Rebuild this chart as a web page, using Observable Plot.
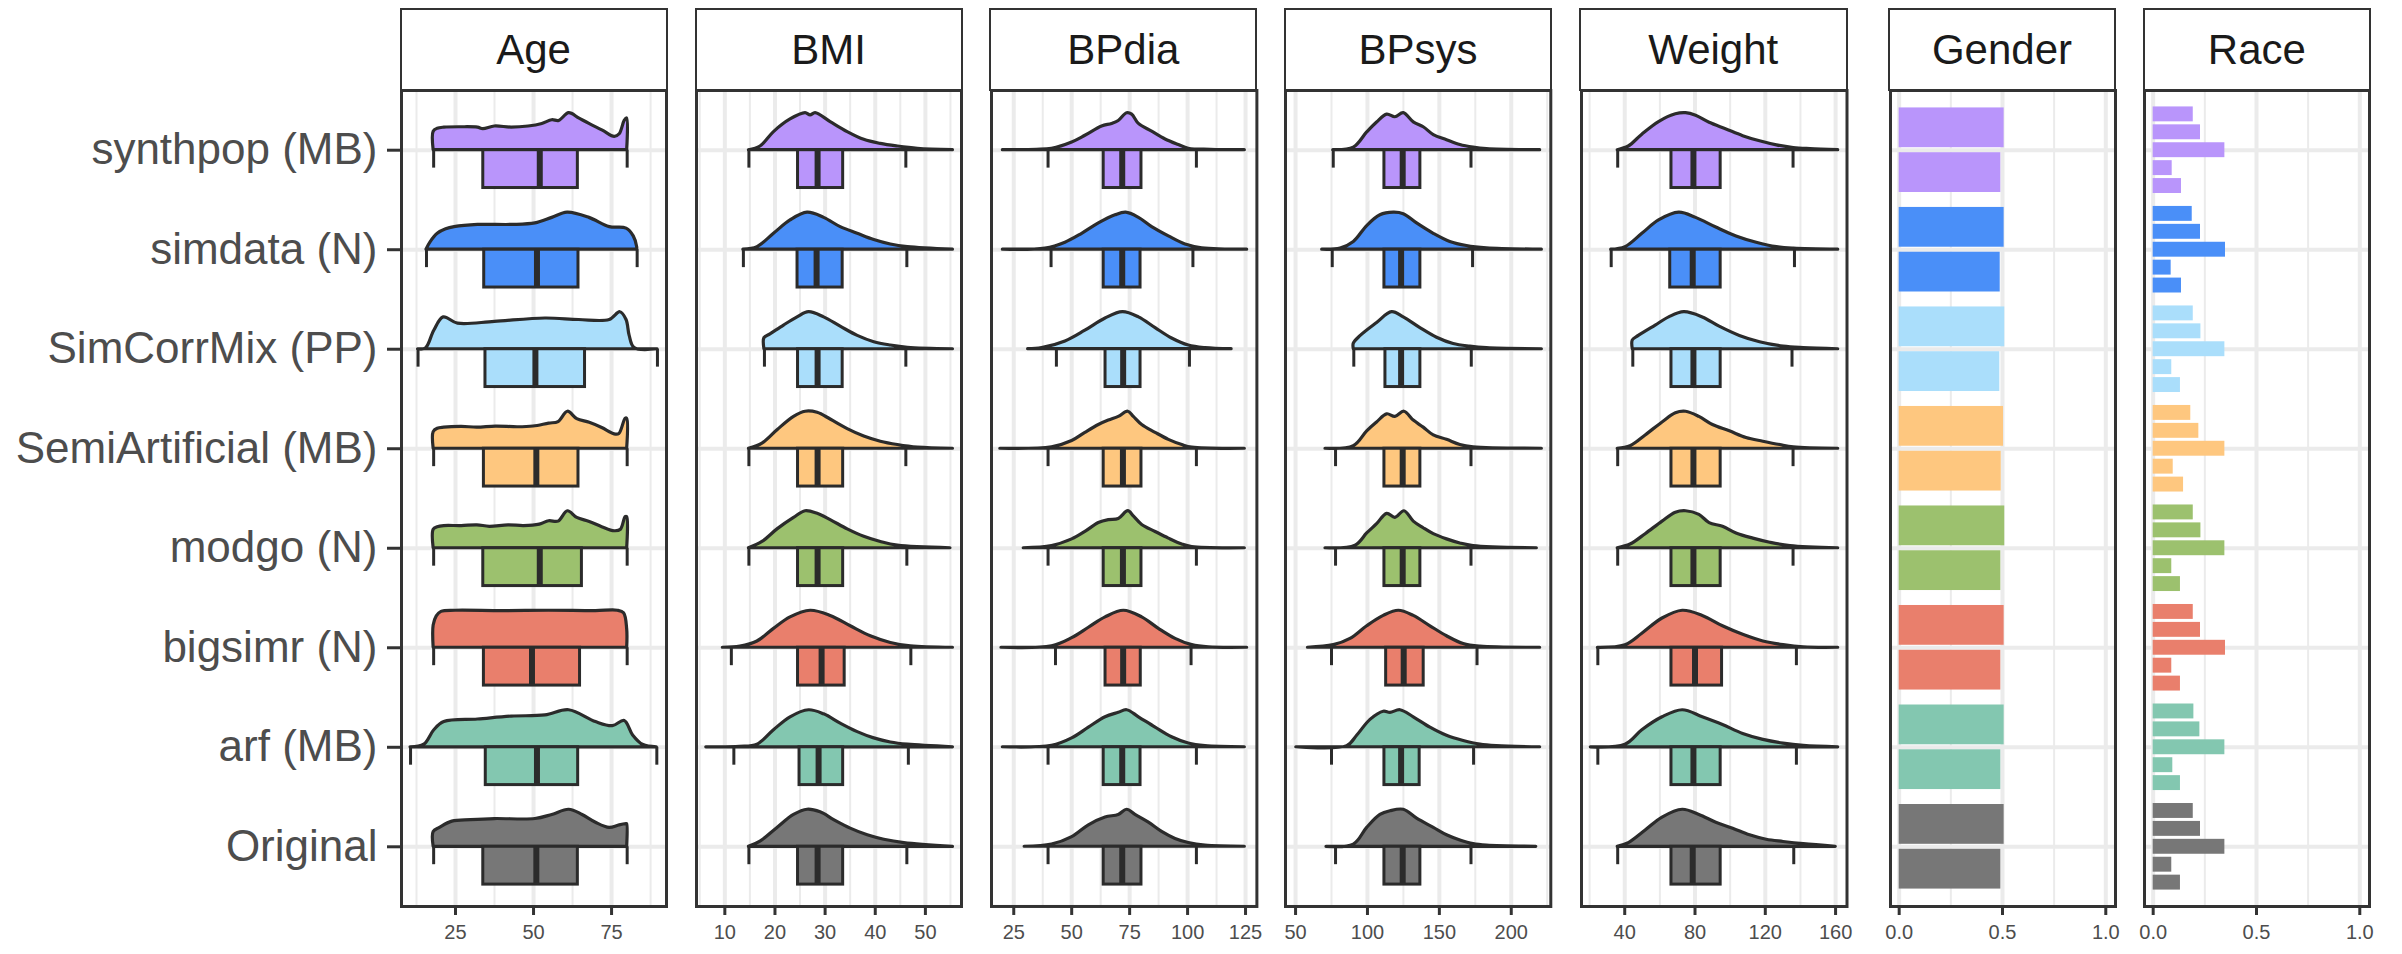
<!DOCTYPE html>
<html><head><meta charset="utf-8">
<script src="https://cdn.jsdelivr.net/npm/d3@7"></script>
<script src="https://cdn.jsdelivr.net/npm/@observablehq/plot@0.6"></script>
<style>
body{margin:0;background:#fff;}
#chart{position:relative;width:2402px;height:954px;overflow:hidden;font-family:"Liberation Sans",Arial,sans-serif;background:#fff;}
.strip{position:absolute;top:8px;height:83px;box-sizing:border-box;border:2.5px solid #333;background:#fff;display:flex;align-items:center;justify-content:center;font-size:42px;color:#1a1a1a;}
.panel{position:absolute;}
</style></head><body><div id="chart"></div>
<script>
// ---------- data ----------
const methods = ["synthpop (MB)","simdata (N)","SimCorrMix (PP)","SemiArtificial (MB)","modgo (N)","bigsimr (N)","arf (MB)","Original"];
const methodColors = ["#B995FB","#4A8FF8","#AADEFB","#FEC77F","#9CC16E","#E97F6C","#83C7B0","#777777"];

const ageTicks = [25,50,75], ageMinor = [12.5,37.5,62.5,87.5];
const bmiTicks = [10,20,30,40,50], bmiMinor = [5,15,25,35,45,55];
const bpdiaTicks = [25,50,75,100,125], bpdiaMinor = [37.5,62.5,87.5,112.5];
const bpsysTicks = [50,100,150,200], bpsysMinor = [75,125,175,225];
const weightTicks = [40,80,120,160], weightMinor = [20,60,100,140];
const propTicks = [0,0.5,1], propMinor = [0.25,0.75];

// density outlines: [value, relative density] per method
const ageDens = [
 [[18,0],[18,0.5],[19.3,0.58],[21.4,0.61],[26.8,0.62],[32.2,0.61],[33.9,0.57],[37.6,0.64],[43,0.61],[48.4,0.64],[52.8,0.71],[56,0.81],[58.2,0.79],[61.4,1],[64.6,0.86],[67.9,0.71],[72.2,0.53],[76,0.36],[77.6,0.43],[79.2,0.79],[80,0.86],[80,0]],
 [[15.7,0],[17,0.2],[19.3,0.43],[22,0.55],[24.7,0.61],[32.2,0.67],[43,0.67],[50.6,0.71],[56,0.86],[60.9,1],[67.9,0.86],[74.4,0.61],[79.8,0.57],[82.1,0.36],[83.2,0.07],[83.2,0]],
 [[13,0],[15.5,0.02],[18.2,0.5],[21.2,0.86],[25.8,0.69],[37.6,0.74],[53.8,0.83],[64.6,0.79],[74.4,0.79],[77.8,1],[79.8,0.79],[80.8,0.36],[82.4,0.03],[89.7,0]],
 [[18,0],[18,0.45],[19.3,0.54],[21.4,0.57],[27,0.59],[32,0.57],[38,0.6],[45,0.58],[50,0.6],[55,0.68],[58,0.72],[61,1],[64,0.8],[68,0.7],[72,0.56],[76,0.39],[77.5,0.4],[79.5,0.81],[80,0.81],[80,0]],
 [[18,0],[18,0.5],[19.3,0.57],[21.4,0.6],[27,0.6],[32,0.62],[36,0.58],[42,0.62],[47,0.6],[52,0.64],[55,0.73],[58,0.72],[61,1],[64,0.82],[68,0.71],[72,0.57],[76,0.46],[78,0.5],[79.5,0.84],[80,0.84],[80,0]],
 [[18,0],[18,0.6],[19,0.85],[20.5,0.97],[25,1],[40,0.99],[55,1],[70,0.99],[77,1],[79,0.93],[80,0.5],[80,0]],
 [[10.6,0],[15,0.07],[18.2,0.46],[21.4,0.68],[32.2,0.75],[43,0.83],[53.8,0.86],[61.4,1],[70,0.68],[75.4,0.57],[79.2,0.71],[81.9,0.32],[85.2,0.06],[89.5,0]],
 [[18,0],[18,0.4],[20,0.51],[24,0.68],[30,0.72],[37.6,0.75],[50.6,0.75],[56,0.86],[61.4,1],[65.7,0.86],[70,0.65],[74.4,0.51],[77.6,0.58],[79.8,0.61],[80,0.61],[80,0]]
];
const bmiDens = [
 [[14.8,0],[17.1,0.1],[19.8,0.49],[23.1,0.83],[26.1,1],[27.1,0.94],[28.1,1],[31.1,0.76],[34.5,0.49],[37.8,0.28],[41.1,0.17],[44.5,0.1],[48.5,0.04],[55.5,0]],
 [[13.7,0],[16.5,0.07],[19.8,0.43],[23.1,0.79],[26.5,1],[29.8,0.86],[33.1,0.61],[36.5,0.43],[39.8,0.26],[43.1,0.14],[46.5,0.07],[55.5,0]],
 [[17.9,0],[17.9,0.3],[19.1,0.4],[21.8,0.64],[24.5,0.86],[26.8,1],[29.8,0.86],[33.1,0.61],[36.5,0.36],[39.8,0.19],[43.1,0.1],[46.5,0.04],[55.5,0]],
 [[14.8,0],[17.5,0.14],[20.5,0.5],[23.8,0.86],[26.1,1],[28.5,0.97],[31.1,0.79],[34.5,0.53],[37.8,0.33],[41.1,0.19],[44.5,0.1],[48.5,0.03],[55.5,0]],
 [[14.8,0],[17.5,0.17],[20.5,0.51],[23.8,0.82],[26.1,1],[28.5,0.93],[31.1,0.76],[34.5,0.51],[37.8,0.31],[41.1,0.17],[44.5,0.07],[55,0]],
 [[9.6,0],[13.1,0.03],[16.5,0.17],[19.8,0.51],[23.1,0.82],[27.1,1],[31.1,0.86],[35.1,0.58],[39.1,0.31],[43.1,0.13],[47.1,0.04],[55.5,0]],
 [[6.3,0],[13,0.01],[16.5,0.07],[19.8,0.46],[23.1,0.81],[26.8,1],[29.8,0.89],[33.1,0.64],[36.5,0.41],[39.8,0.24],[43.1,0.13],[46.5,0.07],[55.5,0]],
 [[14.8,0],[17.1,0.14],[20.5,0.51],[23.8,0.86],[26.5,1],[29.1,0.93],[31.8,0.72],[35.1,0.49],[38.5,0.31],[41.8,0.19],[45.8,0.1],[55.5,0]]
];
const bpdiaDens = [
 [[20.3,0],[35,0.01],[41.5,0.04],[50.2,0.21],[55.9,0.39],[63.1,0.64],[67.4,0.71],[70.3,0.79],[73.9,1],[76.1,0.96],[79,0.71],[84.7,0.5],[90.5,0.29],[96.2,0.14],[100.5,0.04],[110,0.01],[124.7,0]],
 [[20.3,0],[38.7,0.03],[47.3,0.19],[54.5,0.43],[61.7,0.71],[68.9,0.93],[73.5,1],[79,0.86],[84.7,0.61],[91.9,0.36],[99.1,0.14],[106.3,0.04],[125.7,0]],
 [[31.2,0],[37.2,0.03],[47.3,0.21],[55.9,0.5],[64.6,0.83],[72.1,1],[79,0.86],[86.2,0.57],[93.3,0.29],[100.5,0.1],[107.7,0.03],[119,0]],
 [[19.2,0],[41.5,0.04],[50.2,0.21],[55.9,0.43],[61.7,0.64],[66,0.76],[70.3,0.86],[74.4,1],[76.8,0.86],[80.4,0.64],[86.2,0.43],[91.9,0.24],[97.7,0.1],[102,0.03],[124.7,0]],
 [[29.3,0],[41.5,0.06],[50.2,0.24],[55.9,0.44],[61.7,0.68],[66,0.76],[70.3,0.79],[74.4,1],[76.8,0.86],[80.4,0.63],[86.2,0.44],[91.9,0.26],[97.7,0.1],[102,0.03],[124.7,0]],
 [[19.7,0],[41.5,0.04],[50.2,0.26],[57.4,0.54],[64.6,0.82],[72.5,1],[80.4,0.82],[87.6,0.51],[94.8,0.24],[102,0.07],[109.2,0.01],[125.7,0]],
 [[20.3,0],[41.5,0.04],[50.2,0.24],[57.4,0.53],[64.6,0.81],[70.3,0.93],[73.9,1],[79,0.81],[86.2,0.53],[93.3,0.27],[100.5,0.1],[107.7,0.03],[124.7,0]],
 [[29.7,0],[41.5,0.06],[50.2,0.26],[57.4,0.58],[64.6,0.79],[70.3,0.86],[73.9,1],[77.5,0.86],[83.3,0.65],[89,0.4],[94.8,0.21],[100.5,0.1],[107.7,0.03],[124.7,0]]
];
const bpsysDens = [
 [[76.2,0],[90.5,0.07],[99.8,0.48],[106.7,0.75],[113.7,0.96],[119.4,0.89],[125.2,1],[132.2,0.75],[139.1,0.62],[146.1,0.41],[155.3,0.27],[164.6,0.14],[173.8,0.07],[183.1,0.03],[220.1,0]],
 [[68.5,0],[81.3,0.03],[90.5,0.21],[99.8,0.64],[109,0.93],[118.3,1],[125.2,0.96],[134.5,0.71],[146.1,0.43],[157.6,0.21],[169.2,0.1],[183.1,0.04],[221.3,0]],
 [[90.5,0],[90.5,0.15],[95.3,0.36],[106.7,0.71],[117.1,1],[125.2,0.86],[136.8,0.57],[148.4,0.31],[159.9,0.14],[171.5,0.07],[183.1,0.03],[221.3,0]],
 [[70.8,0],[90.5,0.07],[99.8,0.47],[106.7,0.71],[113.7,0.93],[119.4,0.86],[125.7,1],[132.2,0.76],[139.1,0.57],[146.1,0.36],[155.3,0.24],[164.6,0.1],[173.8,0.04],[221.3,0]],
 [[70.8,0],[91.7,0.07],[99.8,0.4],[106.7,0.65],[113.7,0.93],[119.4,0.82],[125.7,1],[132.2,0.72],[139.1,0.54],[146.1,0.38],[155.3,0.24],[164.6,0.13],[173.8,0.06],[217.8,0]],
 [[58.6,0],[76.6,0.07],[88.2,0.24],[99.8,0.58],[111.3,0.86],[121.8,1],[132.2,0.86],[143.8,0.58],[155.3,0.31],[166.9,0.1],[178.5,0.03],[220.1,0]],
 [[50.5,0],[85.9,0.03],[92.8,0.31],[102.1,0.74],[111.3,0.96],[116,0.93],[122.9,1],[132.2,0.81],[143.8,0.53],[155.3,0.31],[166.9,0.17],[178.5,0.07],[190,0.03],[220.1,0]],
 [[71.5,0],[90.5,0.06],[99.8,0.51],[109,0.86],[116,0.96],[125.2,1],[134.5,0.76],[146.1,0.51],[155.3,0.31],[164.6,0.17],[173.8,0.07],[183.1,0.03],[217.4,0]]
];
const weightDens = [
 [[36,0],[42.3,0.1],[50,0.42],[59.5,0.76],[69.1,0.97],[74.9,1],[80.6,0.93],[88.3,0.74],[97.9,0.56],[107.4,0.38],[117,0.24],[126.6,0.13],[136.2,0.06],[145.7,0.03],[161.5,0]],
 [[32.3,0],[40.4,0.07],[50,0.43],[59.5,0.79],[71,1],[80.6,0.86],[92.1,0.6],[103.6,0.36],[115.1,0.19],[126.6,0.07],[136.2,0.03],[161.5,0]],
 [[44.6,0],[44.6,0.24],[48,0.36],[57.6,0.64],[65.3,0.86],[73.9,1],[84.4,0.86],[94,0.61],[105.5,0.36],[117,0.19],[130.4,0.07],[141.9,0.03],[161.5,0]],
 [[36,0],[43.3,0.07],[51.9,0.36],[61.5,0.71],[69.1,0.96],[74.9,1],[82.5,0.86],[90.2,0.64],[99.8,0.47],[109.3,0.29],[118.9,0.19],[128.5,0.1],[136.2,0.04],[161.5,0]],
 [[36,0],[43.3,0.1],[51.9,0.38],[61.5,0.72],[69.1,0.96],[74.9,1],[82.5,0.9],[88.3,0.68],[95.9,0.58],[103.6,0.4],[113.2,0.26],[122.8,0.15],[134.3,0.06],[161.5,0]],
 [[24.7,0],[40.4,0.07],[50,0.38],[61.5,0.79],[73,1],[84.4,0.86],[95.9,0.58],[107.4,0.35],[118.9,0.17],[130.4,0.07],[141.9,0.01],[161.5,0]],
 [[20.7,0],[40.4,0.07],[50,0.46],[61.5,0.81],[73,1],[84.4,0.81],[95.9,0.6],[107.4,0.36],[118.9,0.2],[130.4,0.1],[141.9,0.04],[161.5,0]],
 [[36,0],[42.3,0.1],[51.9,0.44],[61.5,0.79],[73,1],[82.5,0.86],[92.1,0.65],[101.7,0.49],[111.3,0.31],[120.8,0.19],[130.4,0.13],[141.9,0.07],[160.1,0]]
];

// box stats: [lower whisker, Q1, median, Q3, upper whisker]
const ageBox = [[18,33.9,52.0,64.2,80],[15.7,34.2,51.1,64.4,83.2],[13.0,34.6,50.6,66.5,89.7],[18,34.1,50.9,64.4,80],[18,33.9,52.0,65.5,80],[18,34.1,49.5,64.9,80],[10.6,34.7,51.1,64.3,89.5],[18,33.9,50.9,64.2,80]];
const bmiBox = [[14.8,24.6,28.5,33.6,46.1],[13.7,24.5,28.3,33.5,46.3],[17.9,24.6,28.5,33.5,46.1],[14.8,24.6,28.5,33.6,46.1],[14.8,24.6,28.5,33.6,46.3],[11.3,24.6,29.3,33.9,47.1],[11.8,24.9,28.7,33.6,46.6],[14.8,24.6,28.5,33.6,46.3]];
const bpdiaBox = [[39.8,63.8,71.8,80.1,103.8],[41.1,63.8,71.8,79.7,102.3],[43.4,64.6,72.2,79.7,100.8],[39.8,63.8,72.1,80.1,103.8],[39.8,63.8,72.1,80.1,103.8],[43.0,64.6,72.2,79.8,101.5],[39.8,63.8,71.8,79.7,103.8],[39.8,63.8,71.8,80.1,103.8]];
const bpsysBox = [[76.2,111.8,124.5,136.8,172.0],[75.5,111.8,123.4,136.8,173.1],[90.5,112.5,123.4,136.8,172.2],[77.8,111.8,124.5,136.8,172.0],[77.8,111.8,124.5,136.8,172.0],[75.0,113.0,125.2,139.1,176.2],[75.0,111.8,123.4,136.3,173.8],[77.8,111.8,124.5,136.8,172.0]];
const weightBox = [[36.0,66.6,79.1,94.6,135.8],[32.3,65.9,78.7,94.6,136.6],[44.6,66.6,79.1,94.6,135.2],[36.0,66.6,79.1,94.6,135.8],[36.0,66.6,79.1,94.6,135.8],[24.7,66.6,80.0,95.4,137.7],[24.7,66.6,79.1,94.6,137.7],[36.0,66.6,78.7,94.6,136.2]];

// categorical proportions
const genderFirst  = [0.508,0.508,0.511,0.505,0.511,0.508,0.508,0.508];
const genderSecond = [0.492,0.489,0.487,0.494,0.492,0.492,0.492,0.492];
const raceShares = [
 [0.194,0.229,0.347,0.092,0.137],
 [0.189,0.229,0.350,0.087,0.137],
 [0.194,0.231,0.347,0.090,0.132],
 [0.182,0.221,0.347,0.097,0.147],
 [0.194,0.231,0.347,0.090,0.132],
 [0.194,0.229,0.350,0.090,0.132],
 [0.197,0.226,0.347,0.095,0.132],
 [0.194,0.229,0.347,0.090,0.132]
];

// ---------- layout ----------
const chart = document.getElementById("chart");
const PANEL_TOP = 90, PANEL_H = 816;
const FONT = "Liberation Sans, Arial, sans-serif";
const INK = "#2b2b2b";
const DH = 0.372; // density peak height in row units

function place(svg, left, top) {
  svg.classList.add("panel");
  svg.style.left = left + "px";
  svg.style.top = top + "px";
  chart.appendChild(svg);
}
function strip(name, left, right) {
  const d = document.createElement("div");
  d.className = "strip";
  d.textContent = name;
  d.style.left = (left - 1.5) + "px";
  d.style.width = (right - left + 3) + "px";
  chart.appendChild(d);
}
function baseMarks(p) {
  return [
    Plot.ruleX(p.minor, {stroke: "#ebebeb", strokeWidth: 2}),
    Plot.ruleX(p.ticks, {stroke: "#ebebeb", strokeWidth: 4}),
    Plot.ruleY(d3.range(methods.length), {stroke: "#ebebeb", strokeWidth: 4})
  ];
}
function finish(p, marks, first) {
  const mL = first ? p.left : 3, mR = 3, mT = 3, mB = 46;
  marks.push(Plot.frame({stroke: "#333", strokeWidth: 3}));
  marks.push(Plot.axisX({ticks: p.ticks, tickSize: 9, tickPadding: 9, fontSize: 20, fill: "#4d4d4d", stroke: "#333", strokeWidth: 3, label: null, tickFormat: p.fmt}));
  if (first) marks.push(Plot.axisY({ticks: d3.range(methods.length), tickFormat: i => methods[i], tickSize: 14, tickPadding: 10, fontSize: 44, fill: "#4d4d4d", stroke: "#333", strokeWidth: 3, label: null}));
  const svg = Plot.plot({
    width: (p.right - p.left) + mL + mR,
    height: PANEL_H + mT + mB,
    marginLeft: mL, marginRight: mR, marginTop: mT, marginBottom: mB,
    x: {domain: p.domain},
    y: first ? {domain: [7.6, -0.6]} : {domain: [7.6, -0.6], axis: null},
    color: {domain: methods, range: methodColors},
    style: {fontFamily: FONT, background: "transparent", overflow: "visible"},
    marks
  });
  place(svg, p.left - mL, PANEL_TOP - mT);
  strip(p.name, p.left, p.right);
}
function contPanel(p, first) {
  const densRows = p.dens.flatMap((pts, i) => pts.map(([x, h]) => ({i, m: methods[i], x, h})));
  const boxRows = p.box.map(([wlo, q1, med, q3, whi], i) => ({i, m: methods[i], wlo, q1, med, q3, whi}));
  const whiskRows = boxRows.flatMap(b => [{i: b.i, x: b.wlo}, {i: b.i, x: b.whi}]);
  const marks = baseMarks(p).concat([
    Plot.areaY(densRows, {x: "x", y1: "i", y2: d => d.i - d.h * DH, z: "i", fill: "m", stroke: INK, strokeWidth: 3.2, strokeLinejoin: "round", curve: "catmull-rom"}),
    Plot.ruleX(whiskRows, {x: "x", y1: "i", y2: d => d.i + 0.18, stroke: INK, strokeWidth: 3}),
    Plot.rect(boxRows, {x1: "q1", x2: "q3", y1: "i", y2: d => d.i + 0.38, fill: "m", stroke: INK, strokeWidth: 3}),
    Plot.ruleX(boxRows, {x: "med", y1: "i", y2: d => d.i + 0.38, stroke: INK, strokeWidth: 6})
  ]);
  finish(p, marks, first);
}

const intFmt = d3.format("d");
const propFmt = d3.format(".1f");
const contPanels = [
  {name: "Age",    left: 401,    right: 666,    domain: [7.7, 92.6],  ticks: ageTicks,    minor: ageMinor,    dens: ageDens,    box: ageBox,    fmt: intFmt},
  {name: "BMI",    left: 696,    right: 961,    domain: [4.35, 57.2], ticks: bmiTicks,    minor: bmiMinor,    dens: bmiDens,    box: bmiBox,    fmt: intFmt},
  {name: "BPdia",  left: 990.6,  right: 1256,   domain: [15.4, 129.9],ticks: bpdiaTicks,  minor: bpdiaMinor,  dens: bpdiaDens,  box: bpdiaBox,  fmt: intFmt},
  {name: "BPsys",  left: 1285.3, right: 1550.6, domain: [43, 227.5],  ticks: bpsysTicks,  minor: bpsysMinor,  dens: bpsysDens,  box: bpsysBox,  fmt: intFmt},
  {name: "Weight", left: 1580.5, right: 1846,   domain: [15.4, 166.5],ticks: weightTicks, minor: weightMinor, dens: weightDens, box: weightBox, fmt: intFmt}
];
contPanels.forEach((p, j) => contPanel(p, j === 0));

// Gender
{
  const p = {name: "Gender", left: 1889.5, right: 2114.5, domain: [-0.042, 1.047], ticks: propTicks, minor: propMinor, fmt: propFmt};
  const rows = methods.flatMap((m, i) => [{i, m, k: 0, v: genderFirst[i]}, {i, m, k: 1, v: genderSecond[i]}]);
  const marks = baseMarks(p).concat([
    Plot.rect(rows, {x1: 0, x2: "v", y1: d => d.i - 0.45 + d.k * 0.45, y2: d => d.i + d.k * 0.45, fill: "m", insetTop: 2.5, insetBottom: 2.5})
  ]);
  finish(p, marks, false);
}
// Race
{
  const p = {name: "Race", left: 2144.4, right: 2369.4, domain: [-0.042, 1.047], ticks: propTicks, minor: propMinor, fmt: propFmt};
  const rows = methods.flatMap((m, i) => raceShares[i].map((v, k) => ({i, m, k, v})));
  const marks = baseMarks(p).concat([
    Plot.rect(rows, {x1: 0, x2: "v", y1: d => d.i - 0.45 + d.k * 0.18, y2: d => d.i - 0.45 + (d.k + 1) * 0.18, fill: "m", insetTop: 1.5, insetBottom: 1.5})
  ]);
  finish(p, marks, false);
}
</script></body></html>
